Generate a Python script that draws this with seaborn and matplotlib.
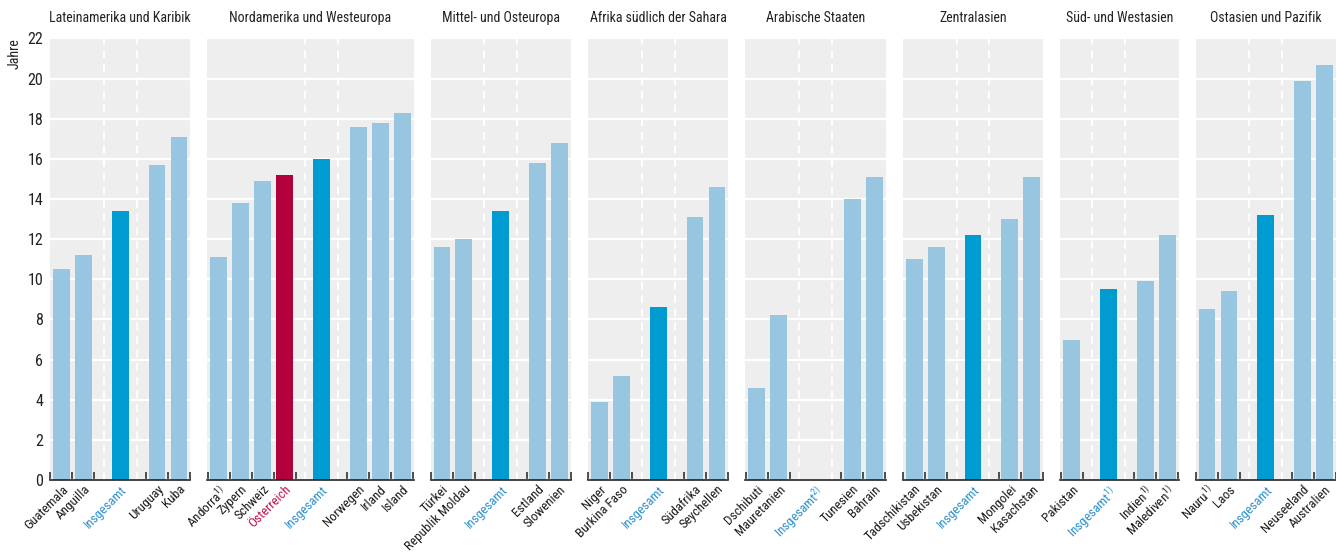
import numpy as np
import pandas as pd
import matplotlib.pyplot as plt
import seaborn as sns
from matplotlib import font_manager

# Durchschnittliche Schulbesuchsdauer in Jahren, nach Region
regions = ['Lateinamerika und Karibik', 'Nordamerika und Westeuropa', 'Mittel- und Osteuropa',
           'Afrika südlich der Sahara', 'Arabische Staaten', 'Zentralasien',
           'Süd- und Westasien', 'Ostasien und Pazifik']

lat_names = ['Guatemala', 'Anguilla', 'Insgesamt', 'Uruguay', 'Kuba']
lat_vals = [10.5, 11.2, 13.4, 15.7, 17.1]

nord_names = ['Andorra$^{1)}$', 'Zypern', 'Schweiz', 'Österreich', 'Insgesamt',
              'Norwegen', 'Irland', 'Island']
nord_vals = [11.1, 13.8, 14.9, 15.2, 16.0, 17.6, 17.8, 18.3]

mittel_names = ['Türkei', 'Republik Moldau', 'Insgesamt', 'Estland', 'Slowenien']
mittel_vals = [11.6, 12.0, 13.4, 15.8, 16.8]

afrika_names = ['Niger', 'Burkina Faso', 'Insgesamt', 'Südafrika', 'Seychellen']
afrika_vals = [3.9, 5.2, 8.6, 13.1, 14.6]

arab_names = ['Dschibuti', 'Mauretanien', 'Insgesamt$^{2)}$', 'Tunesien', 'Bahrain']
arab_vals = [4.6, 8.2, np.nan, 14.0, 15.1]

zentral_names = ['Tadschikistan', 'Usbekistan', 'Insgesamt', 'Mongolei', 'Kasachstan']
zentral_vals = [11.0, 11.6, 12.2, 13.0, 15.1]

sued_names = ['Pakistan', 'Insgesamt$^{1)}$', 'Indien$^{1)}$', 'Malediven$^{1)}$']
sued_vals = [7.0, 9.5, 9.9, 12.2]

ost_names = ['Nauru$^{1)}$', 'Laos', 'Insgesamt', 'Neuseeland', 'Australien']
ost_vals = [8.5, 9.4, 13.2, 19.9, 20.7]

all_names = [lat_names, nord_names, mittel_names, afrika_names, arab_names,
             zentral_names, sued_names, ost_names]
all_vals = [lat_vals, nord_vals, mittel_vals, afrika_vals, arab_vals,
            zentral_vals, sued_vals, ost_vals]

light = '#98c5e0'
total = '#009bd1'
austria = '#b1003b'
palette = {'land': light, 'total': total, 'austria': austria}
label_colors = {'land': '#1a1a1a', 'total': '#2a8fcb', 'austria': '#c0124d'}

GAP = 0.68  # extra space on each side of the "Insgesamt" bar


def kind_of(name):
    if name.startswith('Insgesamt'):
        return 'total'
    if name == 'Österreich':
        return 'austria'
    return 'land'


rows = []
for region, names, vals in zip(regions, all_names, all_vals):
    k = next(i for i, n in enumerate(names) if n.startswith('Insgesamt'))
    for i, (n, v) in enumerate(zip(names, vals)):
        pos = i + GAP * (i >= k) + GAP * (i > k)
        rows.append({'region': region, 'name': n, 'value': v, 'pos': pos, 'kind': kind_of(n)})
df = pd.DataFrame(rows)

spans = [df.loc[df.region == r, 'pos'].max() + 1.04 for r in regions]

# the original uses a condensed face; take one if installed
fonts = font_manager.fontManager.ttflist
names_available = {f.name for f in fonts}
stretch = 'normal'
base_font = None
for cand in ['Liberation Sans Narrow', 'Roboto Condensed', 'Noto Sans Condensed',
             'Open Sans Condensed', 'Noto Sans SemiCondensed']:
    if cand in names_available:
        base_font = cand
        break
if base_font is None:
    for fam in ['Noto Sans', 'Open Sans', 'Roboto']:
        if any(f.name == fam and f.stretch in ('condensed', 'semi-condensed', 'extra-condensed')
               for f in fonts):
            base_font, stretch = fam, 'condensed'
            break
narrow = base_font is not None
if not narrow:
    base_font = 'Liberation Sans'

plt.rcParams['font.family'] = [base_font, 'DejaVu Sans']
plt.rcParams['font.stretch'] = stretch
plt.rcParams['mathtext.default'] = 'regular'

label_size = 9.5 if narrow else 8.5
title_size = 10 if narrow else 8.8

fig, axes = plt.subplots(1, 8, figsize=(13.36, 5.55), dpi=100, sharey=True,
                         gridspec_kw=dict(width_ratios=spans, wspace=17 / 145.875))
fig.subplots_adjust(left=50 / 1336, right=1.0, bottom=75 / 555, top=1 - 38.5 / 555)

for ax, region in zip(axes, regions):
    sub = df[df.region == region]
    sns.barplot(data=sub.dropna(subset=['value']), x='pos', y='value', hue='kind',
                palette=palette, native_scale=True, width=0.77, saturation=1,
                errorbar=None, legend=False, ax=ax)

    ax.set_facecolor('#edeeed')
    ax.set_xlim(-0.52, sub.pos.max() + 0.52)
    ax.set_ylim(0, 22)
    ax.set_yticks(range(0, 23, 2))
    ax.grid(axis='y', color='white', lw=1.6)
    ax.grid(axis='x', visible=False)
    ax.set_axisbelow(True)

    ins = sub.loc[sub.kind == 'total', 'pos'].iloc[0]
    for xv in (ins - 0.75, ins + 0.75):
        ax.axvline(xv, color='white', lw=1.4, ls=(0, (4, 3)), zorder=0.6)

    for s in ('top', 'left', 'right'):
        ax.spines[s].set_visible(False)
    ax.spines['bottom'].set_color('#222222')
    ax.spines['bottom'].set_linewidth(1.2)

    ax.set_xticks(sub.pos)
    ax.set_xticklabels(sub.name, rotation=45, ha='right', va='top',
                       rotation_mode='anchor', fontsize=label_size)
    for lab, kind in zip(ax.get_xticklabels(), sub.kind):
        lab.set_color(label_colors[kind])
    ax.tick_params(axis='x', which='major', length=0, pad=2)

    land_pos = sub.loc[sub.kind != 'total', 'pos']
    bounds = sorted(set(np.round(np.concatenate([land_pos - 0.5, land_pos + 0.5]), 3)))
    ax.set_xticks(bounds, minor=True)
    ax.tick_params(axis='x', which='minor', direction='in', length=6, width=1.1, color='#222222')
    ax.tick_params(axis='y', length=0, labelsize=11.5, labelcolor='#222222', pad=5)

    ax.set_xlabel('')
    ax.set_ylabel('')
    ax.set_title(region, fontsize=title_size, pad=12, color='#222222')

axes[0].set_ylabel('Jahre', loc='top', fontsize=10, color='#222222', labelpad=4)

fig.savefig('out.png', dpi=100)
